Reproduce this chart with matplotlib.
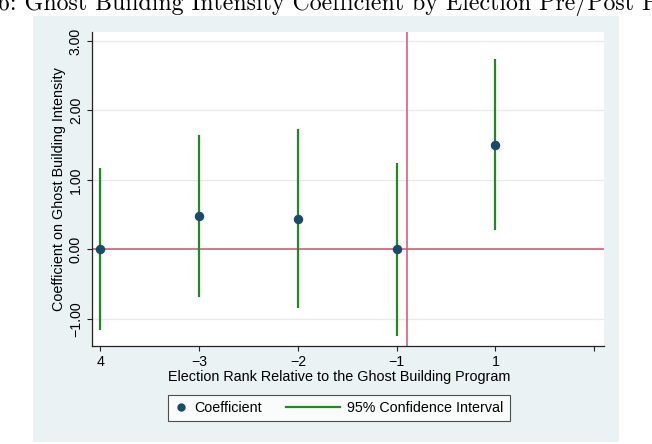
import matplotlib
matplotlib.use("Agg")
import matplotlib.pyplot as plt
from matplotlib.patches import Rectangle
from matplotlib.lines import Line2D
from matplotlib.legend_handler import HandlerLine2D

# Data
positions = [0, 1, 2, 3, 4]
tick_labels = ["4", "\u22123", "\u22122", "\u22121", "1", ""]
coef = [0.0, 0.475, 0.44, 0.0, 1.50]
ci_low = [-1.16, -0.69, -0.85, -1.25, 0.28]
ci_high = [1.17, 1.64, 1.73, 1.24, 2.74]
y_ticks = [-1, 0, 1, 2, 3]
program_start = 3.1

NAVY = "#1b4a66"
GREEN = "#1e8a24"
RED = "#cf5470"
BG = "#eaf2f3"

plt.rcParams["font.family"] = ["Liberation Sans", "DejaVu Sans"]


class LongLineHandler(HandlerLine2D):
    """Legend line that reaches back into the column gap, Stata style."""
    def create_artists(self, legend, orig_handle, xdescent, ydescent,
                       width, height, fontsize, trans):
        y = height / 2 - ydescent
        line = Line2D([-xdescent - 2.9 * fontsize, width - xdescent], [y, y],
                      color=GREEN, linewidth=1.6, transform=trans)
        return [line]


fig = plt.figure(figsize=(6.52, 4.44), dpi=100)
fig.patch.set_facecolor("white")

# Stata graph region
fig.patches.append(Rectangle((33 / 652, 1 - 442 / 444), 586 / 652, 426 / 444,
                             transform=fig.transFigure, facecolor=BG,
                             edgecolor="none", zorder=-5))

fig.text(-2 / 652, 1 - 9.5 / 444,
         "6: Ghost Building Intensity Coefficient by Election Pre/Post P",
         fontfamily="cmr10", fontsize=17.2, va="baseline", ha="left")

ax = fig.add_axes([92 / 652, 1 - 346 / 444, 512 / 652, 314.3 / 444])
ax.set_zorder(2)
ax.set_facecolor("white")

ax.set_xlim(-0.085, 5.1)
ax.set_ylim(-1.39, 3.134)

ax.set_yticks(y_ticks)
ax.set_yticklabels([f"{v:.2f}".replace("-", "\u2212") for v in y_ticks],
                   rotation=90, va="center")
ax.set_xticks(range(len(tick_labels)))
ax.set_xticklabels(tick_labels)

ax.grid(True, axis="y", color="#e8eaea", linewidth=0.9)
ax.set_axisbelow(True)

for s in ["top", "right"]:
    ax.spines[s].set_visible(False)
for s in ["left", "bottom"]:
    ax.spines[s].set_color("#222222")
    ax.spines[s].set_linewidth(0.9)

ax.tick_params(axis="both", direction="out", length=3.5, width=0.8,
               color="#222222", labelsize=10.2, pad=3)

ax.axhline(0, color=RED, linewidth=1.1, zorder=2)
ax.axvline(program_start, color=RED, linewidth=1.1, zorder=2)

ax.vlines(positions, ci_low, ci_high, color=GREEN, linewidth=1.6, zorder=3)
ax.plot(positions, coef, linestyle="none", marker="o", markersize=5.8,
        color=NAVY, zorder=4)

ax.set_xlabel("Election Rank Relative to the Ghost Building Program",
              fontsize=10.4)
ax.xaxis.set_label_coords((339 - 92) / 512, -0.075)
ax.set_ylabel("Coefficient on Ghost Building Intensity",
              fontsize=10.4, labelpad=2)

h_coef = Line2D([], [], linestyle="none", marker="o", markersize=5.0, color=NAVY)
h_ci = Line2D([], [], color=GREEN, linewidth=1.6)
leg = fig.legend([h_coef, h_ci], ["Coefficient", "95% Confidence Interval"],
                 ncol=2, loc="center", bbox_to_anchor=(339 / 652, 1 - 408 / 444),
                 fontsize=10.3, frameon=True, fancybox=False,
                 handlelength=0.9, handletextpad=0.45, columnspacing=4.6,
                 borderpad=0.45, borderaxespad=0,
                 handler_map={h_ci: LongLineHandler()})
leg.get_frame().set_edgecolor("#222222")
leg.get_frame().set_linewidth(0.8)
leg.get_frame().set_facecolor("white")

fig.savefig("out.png", dpi=100)
